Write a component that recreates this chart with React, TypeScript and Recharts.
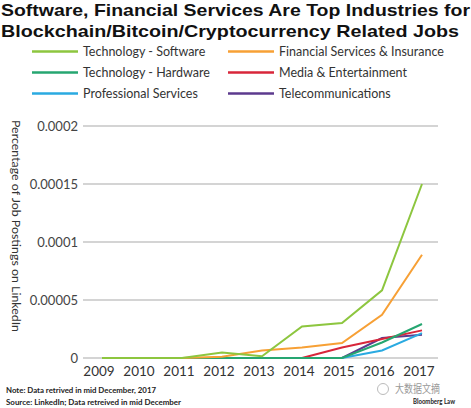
import { LineChart, Line, XAxis, YAxis, CartesianGrid, Legend, Label } from "recharts";

const YEARS = ["2009", "2010", "2011", "2012", "2013", "2014", "2015", "2016", "2017"];

const SOFTWARE = [0, 0, 0, 0.0000048, 0.0000015, 0.0000272, 0.0000302, 0.0000583, 0.00015];
const FINANCIAL = [0, 0, 0, 0.000001, 0.0000065, 0.0000091, 0.0000129, 0.0000373, 0.000089];
const HARDWARE = [0, 0, 0, 0, 0, 0, 0, 0.0000134, 0.0000293];
const MEDIA = [0, 0, 0, 0, 0, 0, 0.0000091, 0.0000164, 0.0000238];
const PROFESSIONAL = [0, 0, 0, 0, 0, 0, 0, 0.0000065, 0.0000215];
const TELECOM = [0, 0, 0, 0, 0, 0, 0, 0.0000172, 0.00002];

const Y_TICKS = [0, 0.00005, 0.0001, 0.00015, 0.0002];
const Y_TICK_LABELS = ["0", "0.00005", "0.0001", "0.00015", "0.0002"];

// legend order (row by row, two columns)
const SERIES = [
  { key: "software", name: "Technology - Software", color: "#8dc63f" },
  { key: "financial", name: "Financial Services & Insurance", color: "#f7a035" },
  { key: "hardware", name: "Technology - Hardware", color: "#26a671" },
  { key: "media", name: "Media & Entertainment", color: "#d8263a" },
  { key: "professional", name: "Professional Services", color: "#2aaae1" },
  { key: "telecom", name: "Telecommunications", color: "#5c3a8e" },
];

const data = YEARS.map((year, i) => ({
  year,
  software: SOFTWARE[i],
  financial: FINANCIAL[i],
  hardware: HARDWARE[i],
  media: MEDIA[i],
  professional: PROFESSIONAL[i],
  telecom: TELECOM[i],
}));

const FONT = "Lato, 'Open Sans', sans-serif";
const TITLE_FONT = "'Liberation Sans', Arial, sans-serif";

function LegendGrid() {
  return (
    <svg width={471} height={64} style={{ display: "block" }}>
      {SERIES.map((s, i) => {
        const col = i % 2;
        const row = Math.floor(i / 2);
        const x0 = col === 0 ? 32 : 228;
        const y = 11.5 + row * 21;
        return (
          <g key={s.key}>
            <line x1={x0} x2={x0 + 46} y1={y} y2={y} stroke={s.color} strokeWidth={2.5} />
            <text x={x0 + 51} y={y + 4.5} fontSize={12.5} fill="#333" fontFamily={FONT}>
              {s.name}
            </text>
          </g>
        );
      })}
    </svg>
  );
}

function YTitle() {
  return (
    <text
      x={16}
      y={226}
      transform="rotate(90 16 226)"
      textAnchor="middle"
      dominantBaseline="central"
      fontSize={12}
      fill="#333"
      fontFamily={FONT}
      textLength={212}
      lengthAdjust="spacingAndGlyphs"
    >
      Percentage of Job Postings on LinkedIn
    </text>
  );
}

// draw order, bottom to top
const DRAW_ORDER = ["telecom", "professional", "media", "hardware", "financial", "software"];

export default function App() {
  return (
    <div
      style={{
        position: "absolute",
        left: 0,
        top: 0,
        width: 471,
        height: 408,
        background: "#fff",
        fontFamily: FONT,
      }}
    >
      <LineChart width={471} height={408} data={data} margin={{ top: 126, right: 33, bottom: 0, left: 0 }}>
        <CartesianGrid vertical={false} stroke="#a9a9a9" strokeWidth={1} />
        <XAxis
          dataKey="year"
          padding={{ left: 19, right: 16 }}
          axisLine={false}
          tickLine={false}
          height={50}
          interval={0}
          tick={{ fontSize: 13.5, fill: "#333", fontFamily: FONT, dx: -3 }}
        />
        <YAxis
          width={83}
          domain={[0, 0.0002]}
          ticks={Y_TICKS}
          tickFormatter={(v: number) => Y_TICK_LABELS[Y_TICKS.indexOf(v)] ?? String(v)}
          axisLine={false}
          tickLine={false}
          tickSize={5}
          tickMargin={0}
          tick={{ fontSize: 13, fill: "#444", fontFamily: FONT }}
        >
          <Label content={() => <YTitle />} />
        </YAxis>
        <Legend
          layout="vertical"
          align="center"
          verticalAlign="middle"
          wrapperStyle={{ top: 40, left: 0, width: 471 }}
          content={() => <LegendGrid />}
        />
        {DRAW_ORDER.map((k) => {
          const s = SERIES.find((x) => x.key === k)!;
          return (
            <Line
              key={s.key}
              type="linear"
              dataKey={s.key}
              name={s.name}
              stroke={s.color}
              strokeWidth={2}
              dot={false}
              isAnimationActive={false}
            />
          );
        })}
      </LineChart>

      <svg width={471} height={408} style={{ position: "absolute", left: 0, top: 0, pointerEvents: "none" }}>
        <text x={1} y={15.5} fontSize={17} fontWeight={700} fill="#111" fontFamily={TITLE_FONT} textLength={469} lengthAdjust="spacingAndGlyphs">
          Software, Financial Services Are Top Industries for
        </text>
        <text x={1} y={36.5} fontSize={17} fontWeight={700} fill="#111" fontFamily={TITLE_FONT} textLength={458} lengthAdjust="spacingAndGlyphs">
          Blockchain/Bitcoin/Cryptocurrency Related Jobs
        </text>
        <text x={6} y={393} fontSize={7.5} fontWeight={700} fill="#222" fontFamily={FONT} textLength={150} lengthAdjust="spacingAndGlyphs">
          Note: Data retrived in mid December, 2017
        </text>
        <text x={6} y={405} fontSize={7.5} fontWeight={700} fill="#222" fontFamily={FONT} textLength={175} lengthAdjust="spacingAndGlyphs">
          Source: LinkedIn; Data retreived in mid December
        </text>
        <text x={413} y={404} fontSize={7.5} fontWeight={700} fill="#222" fontFamily={FONT} textLength={42} lengthAdjust="spacingAndGlyphs">
          Bloomberg Law
        </text>
        <circle cx={383} cy={389} r={5.5} fill="none" stroke="#bbb" strokeWidth={1} />
        <text x={395} y={393} fontSize={11.5} fill="#999" fontFamily="'Noto Sans CJK SC', sans-serif" textLength={45} lengthAdjust="spacingAndGlyphs">
          大数据文摘
        </text>
      </svg>
    </div>
  );
}
